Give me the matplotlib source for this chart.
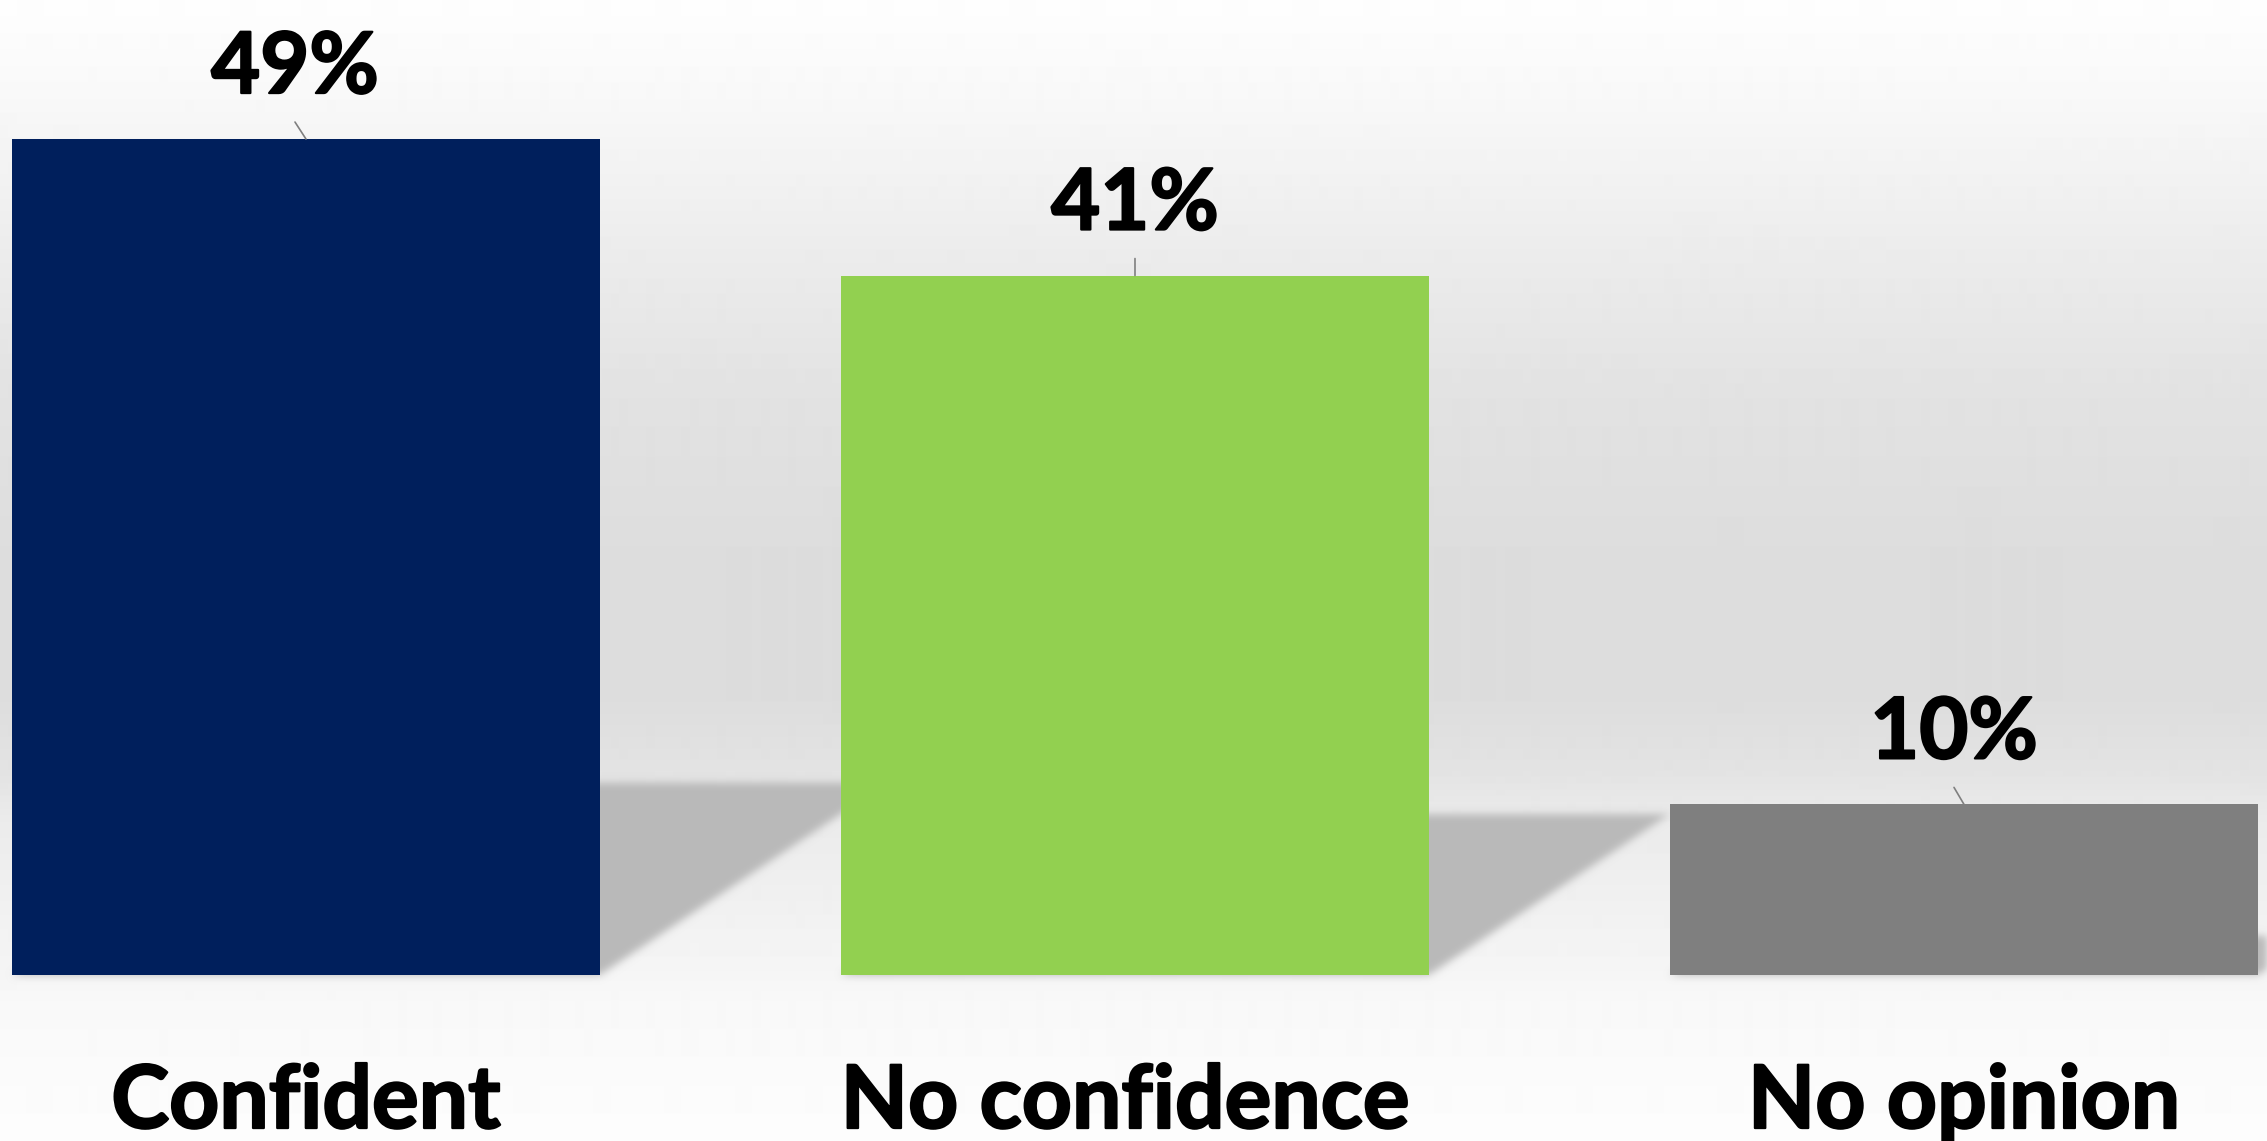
import numpy as np
import matplotlib
matplotlib.use("Agg")
import matplotlib.pyplot as plt
from matplotlib.patches import Polygon
import matplotlib.patheffects as pe
from matplotlib.transforms import offset_copy

# ---------------- data ----------------
categories = ["Confident", "No confidence", "No opinion"]
values = [49, 41, 10]
bar_colors = ["#001F5C", "#92D050", "#7F7F7F"]

# ---------------- layout / style ----------------
W, H, DPI = 2267, 1141, 100
plt.rcParams["font.family"] = ["Lato", "DejaVu Sans"]
FS_VAL = 61
FS_CAT = 63
label_dx = [-11, 0, -10]       # pixel offset of value labels
cat_dx = [0, -10, 0]           # pixel offset of category labels
bar_width = 0.709
shadow_h = 0.23                # shadow height relative to bar
shadow_shift = 0.00708         # x shift of shadow per unit value
shadow_color = (0xB9 / 255,) * 3
bold_fx = [pe.withStroke(linewidth=1.6, foreground="black")]

fig = plt.figure(figsize=(W / DPI, H / DPI), dpi=DPI)
ax = fig.add_axes([0, 0, 1, 1])
xlim = (-0.3691, 2.3655)
ylim = (-9.73, 57.15)
ax.set_xlim(*xlim)
ax.set_ylim(*ylim)
ax.axis("off")

# background vertical gradient
rows = np.arange(H)
stop_rows = [0, 100, 250, 400, 550, 700, 770, 820, 900, 970, 1000, 1141]
stop_vals = [254, 248, 236, 226, 221, 221, 227, 235, 240, 245, 248, 253]
grad = np.interp(rows, stop_rows, stop_vals) / 255.0
ax.imshow(grad[:, None], extent=(xlim[0], xlim[1], ylim[0], ylim[1]),
          aspect="auto", cmap="gray", vmin=0, vmax=1, zorder=0,
          interpolation="bilinear")


class SoftShadow:
    def __init__(self, sigma, rgb):
        self.sigma = sigma
        self.rgb = rgb

    def __call__(self, im, dpi):
        s = self.sigma
        pad = int(3 * s) + 1
        a = np.pad(im[..., 3], pad)
        k = np.arange(-pad, pad + 1)
        w = np.exp(-0.5 * (k / s) ** 2)
        w /= w.sum()
        for axis in (0, 1):
            acc = np.zeros_like(a)
            for kk, ww in zip(k, w):
                acc += ww * np.roll(a, kk, axis=axis)
            a = acc
        out = np.zeros(a.shape + (4,))
        out[..., 0] = self.rgb[0]
        out[..., 1] = self.rgb[1]
        out[..., 2] = self.rgb[2]
        out[..., 3] = np.clip(a, 0, 1)
        return out, -pad, -pad


x = np.arange(len(categories))

# cast shadows
for xi, v in zip(x, values):
    x0, x1 = xi - bar_width / 2, xi + bar_width / 2
    dx = shadow_shift * v
    poly = Polygon([(x0, 0), (x1, 0), (x1 + dx, shadow_h * v), (x0 + dx, shadow_h * v)],
                   closed=True, facecolor=shadow_color, edgecolor="none", zorder=1)
    poly.set_agg_filter(SoftShadow(4.0, shadow_color))
    ax.add_patch(poly)

ax.bar(x, values, width=bar_width, color=bar_colors, zorder=2, linewidth=0)

# value labels with leader lines
for xi, v, dxp in zip(x, values, label_dx):
    ax.annotate("", xy=(xi, v), xytext=(dxp, 17), textcoords="offset pixels",
                arrowprops=dict(arrowstyle="-", color="#7F7F7F", lw=1.2,
                                shrinkA=0, shrinkB=0), zorder=3)
    ax.annotate(f"{v}%", xy=(xi, v), xytext=(dxp, 46), textcoords="offset pixels",
                ha="center", va="baseline", fontsize=FS_VAL, fontweight="bold",
                color="black", zorder=3, path_effects=bold_fx)

# category labels
for xi, c, cdx in zip(x, categories, cat_dx):
    tr = offset_copy(ax.transData, fig=fig, x=cdx, y=0, units="dots")
    ax.text(xi, -8.97, c, ha="center", va="baseline", fontsize=FS_CAT,
            fontweight="bold", color="black", zorder=3, path_effects=bold_fx,
            transform=tr)

fig.savefig("out.png", dpi=DPI)
